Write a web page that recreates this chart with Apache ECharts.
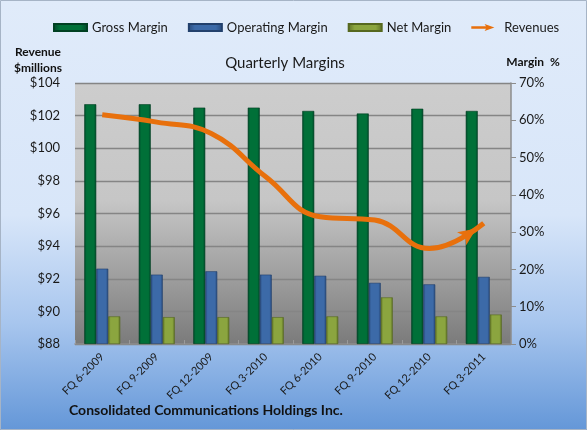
<!DOCTYPE html>
<html>
<head>
<meta charset="utf-8">
<script src="https://cdn.jsdelivr.net/npm/echarts@6/dist/echarts.min.js"></script>
<style>
html,body{margin:0;padding:0;}
#c{width:587px;height:430px;}
</style>
</head>
<body>
<div id="c"></div>
<script>
const categories = ['FQ 6-2009','FQ 9-2009','FQ 12-2009','FQ 3-2010','FQ 6-2010','FQ 9-2010','FQ 12-2010','FQ 3-2011'];
const grossMargin = [64.3,64.3,63.4,63.4,62.5,61.8,63.1,62.5];
const operatingMargin = [20.2,18.6,19.5,18.6,18.3,16.4,16.0,18.0];
const netMargin = [7.4,7.2,7.2,7.2,7.4,12.5,7.4,7.9];
const revenues = [102.05,101.6,100.9,98.25,95.8,95.6,93.85,95.4];

const FONT = 'Lato';
function bevel(edge, mid){
  return {type:'linear',x:0,y:0,x2:1,y2:0,colorStops:[
    {offset:0,color:edge},{offset:0.2,color:mid},{offset:0.8,color:mid},{offset:1,color:edge}]};
}
const lastIdx = revenues.length - 1;
const revData = revenues.map((v,i)=> i===lastIdx
  ? {value:v, symbol:'arrow', symbolSize:[12,18], symbolRotate:-55, symbolOffset:[-7.4,5.2], itemStyle:{color:'#e8700c',opacity:1}}
  : {value:v});
const chart = echarts.init(document.getElementById('c'));
chart.setOption({
  animation:false,
  backgroundColor:{type:'linear',x:0,y:0,x2:0,y2:1,colorStops:[
    {offset:0,color:'#e0ebfa'},{offset:0.5,color:'#d8e6f9'},{offset:0.75,color:'#a8c6ee'},{offset:1,color:'#6497d8'}]},
  textStyle:{fontFamily:FONT},
  graphic:[
    {id:'border',type:'rect',shape:{x:0.5,y:0.5,width:586,height:429},style:{fill:'none',stroke:'#a6b4c6',lineWidth:1},silent:true},
    {id:'title',type:'text',x:285,y:63,style:{text:'Quarterly Margins',font:'15px '+FONT,fill:'#1a1a1a',textAlign:'center',textVerticalAlign:'middle'}},
    {id:'lt1',type:'text',x:38,y:52,style:{text:'Revenue',font:'bold 12px '+FONT,fill:'#111',textAlign:'center',textVerticalAlign:'middle'}},
    {id:'lt2',type:'text',x:38,y:68,style:{text:'$millions',font:'bold 12px '+FONT,fill:'#111',textAlign:'center',textVerticalAlign:'middle'}},
    {id:'rt',type:'text',x:533,y:62,style:{text:'Margin  %',font:'bold 12px '+FONT,fill:'#111',textAlign:'center',textVerticalAlign:'middle'}},
    {id:'foot',type:'text',x:69,y:410,style:{text:'Consolidated Communications Holdings Inc.',font:'bold 14px '+FONT,fill:'#111',textAlign:'left',textVerticalAlign:'middle'}}
  ],
  legend:{
    left:53, top:21, padding:0, itemWidth:33, itemHeight:7, itemGap:20,
    textStyle:{fontSize:13,color:'#1a1a1a',fontFamily:FONT},
    data:[
      {name:'Gross Margin',icon:'rect'},
      {name:'Operating Margin',icon:'rect'},
      {name:'Net Margin',icon:'rect'},
      {name:'Revenues',icon:'path://M0,3.3 L21,3.3 L19,0 L33,5 L19,10 L21,6.7 L0,6.7 Z',itemStyle:{color:'#e8700c'}}
    ]
  },
  grid:{left:75,right:76,top:83,bottom:86,show:true,borderWidth:0,
    backgroundColor:{type:'linear',x:0,y:0,x2:0,y2:1,colorStops:[
      {offset:0,color:'#cdcdcd'},{offset:0.45,color:'#c6c6c6'},{offset:1,color:'#7b7b7b'}]}},
  xAxis:{type:'category',data:categories,
    axisLine:{lineStyle:{color:'#8c8c8c',width:1.5}},
    axisTick:{show:true,inside:true,length:4,lineStyle:{color:'#9a9a9a'}},
    axisLabel:{rotate:45,fontSize:11,color:'#1a1a1a',margin:11,fontFamily:FONT}},
  yAxis:[
    {type:'value',min:88,max:104,interval:2,position:'left',
      axisLine:{show:false},axisTick:{show:false},
      axisLabel:{formatter:v=>'$'+v,fontSize:13,color:'#1a1a1a',margin:15,fontFamily:FONT},
      splitLine:{lineStyle:{color:'#858585',width:1.3}}},
    {type:'value',min:0,max:70,interval:10,position:'right',
      axisLine:{show:true,lineStyle:{color:'#8c8c8c',width:1.5}},
      axisTick:{show:true,length:5,lineStyle:{color:'#8c8c8c'}},
      axisLabel:{formatter:v=>v+'%',fontSize:13,color:'#1a1a1a',margin:8,fontFamily:FONT},
      splitLine:{show:false}}
  ],
  series:[
    {name:'Gross Margin',type:'bar',yAxisIndex:1,barWidth:12,barGap:'0%',data:grossMargin,
      itemStyle:{color:bevel('#00472a','#007038'),borderColor:'#004022',borderWidth:0.6}},
    {name:'Operating Margin',type:'bar',yAxisIndex:1,barWidth:12,barGap:'0%',data:operatingMargin,
      itemStyle:{color:bevel('#27497a','#3c6aa8'),borderColor:'#22406c',borderWidth:0.6}},
    {name:'Net Margin',type:'bar',yAxisIndex:1,barWidth:12,barGap:'0%',data:netMargin,
      itemStyle:{color:bevel('#5d7025','#8ba53f'),borderColor:'#56681f',borderWidth:0.6}},
    {name:'Revenues',type:'line',yAxisIndex:0,data:revData,smooth:0.45,
      symbol:'none',showSymbol:true,showAllSymbol:true,clip:false,z:5,
      lineStyle:{color:'#e8700c',width:5,cap:'butt'},
      itemStyle:{color:'#e8700c'}}
  ]
});
</script>
</body>
</html>
